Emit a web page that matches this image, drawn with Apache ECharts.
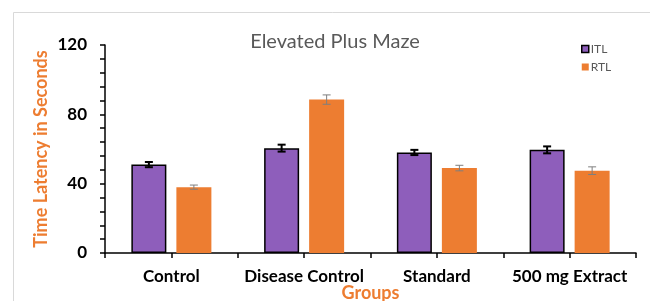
<!DOCTYPE html>
<html>
<head>
<meta charset="utf-8">
<script src="https://cdn.jsdelivr.net/npm/echarts@6/dist/echarts.min.js"></script>
<style>
    html, body { margin: 0; padding: 0; background: #fff; }
    #chart { width: 650px; height: 301px; }
</style>
</head>
<body>
<div id="chart"></div>
<script>
const groups = ["Control", "Disease Control", "Standard", "500 mg Extract"];
const itlValues = [51, 60.5, 58, 59.5];
const itlErrors = [1.5, 2, 1.5, 2];
const rtlValues = [38, 88.5, 49, 47.5];
const rtlErrors = [1.2, 2.7, 1.6, 2.2];

const BAR_WIDTH = 35;
const BAR_OFFSET = 22.5;
const FONT = "Lato, 'Open Sans', sans-serif";

function errorSeries(values, errors, side, color, width) {
    return {
        type: "custom",
        xAxisIndex: 0,
        z: 10,
        silent: true,
        data: values.map((v, i) => [i, v - errors[i], v + errors[i]]),
        renderItem(params, api) {
            const low = api.coord([api.value(0), api.value(1)]);
            const high = api.coord([api.value(0), api.value(2)]);
            const x = low[0] + side * BAR_OFFSET;
            const cap = 4;
            const style = { stroke: color, lineWidth: width };
            return {
                type: "group",
                children: [
                    { type: "line", shape: { x1: x, y1: low[1], x2: x, y2: high[1] }, style },
                    { type: "line", shape: { x1: x - cap, y1: low[1], x2: x + cap, y2: low[1] }, style },
                    { type: "line", shape: { x1: x - cap, y1: high[1], x2: x + cap, y2: high[1] }, style },
                ],
            };
        },
    };
}

const chart = echarts.init(document.getElementById("chart"));

chart.setOption({
    backgroundColor: "#ffffff",
    animation: false,
    graphic: [
        {
            type: "rect",
            shape: { x: 13.5, y: 12.5, width: 700, height: 400 },
            style: { fill: "none", stroke: "#d9d9d9", lineWidth: 1 },
            z: -1,
        },
    ],
    title: {
        text: "Elevated Plus Maze",
        left: 330,
        top: 27,
        textAlign: "center",
        textStyle: { color: "#595959", fontSize: 20, fontWeight: "normal", fontFamily: FONT },
    },
    legend: {
        orient: "vertical",
        left: 576,
        top: 38,
        itemWidth: 7,
        itemHeight: 7,
        itemGap: 6,
        textStyle: { color: "#595959", fontSize: 12, fontFamily: FONT, padding: [0, 0, 0, -3] },
        data: [
            { name: "ITL", icon: "rect", itemStyle: { borderColor: "#000", borderWidth: 1.5 } },
            { name: "RTL", icon: "rect" },
        ],
    },
    grid: { left: 105, right: 14, top: 45, bottom: 48, outerBoundsMode: "none", containLabel: false },
    xAxis: [
        {
            type: "category",
            data: groups,
            name: "Groups",
            nameLocation: "middle",
            nameGap: 31,
            nameMoveOverlap: false,
            nameTextStyle: { color: "#ED7D31", fontSize: 18, fontWeight: "bold", fontFamily: FONT },
            axisLine: { lineStyle: { color: "#000", width: 1.5 } },
            axisTick: { show: true, length: 5, lineStyle: { color: "#000", width: 1.5 } },
            axisLabel: { color: "#000", fontSize: 17, fontWeight: "bold", fontFamily: FONT, margin: 15, interval: 0 },
        },
        {
            type: "category",
            data: groups,
            position: "bottom",
            axisLine: { show: false },
            axisTick: { show: true, alignWithLabel: true, length: 5, lineStyle: { color: "#000", width: 1.5 } },
            axisLabel: { show: false },
        },
    ],
    yAxis: {
        type: "value",
        min: 0,
        max: 120,
        interval: 40,
        name: "Time Latency in Seconds",
        nameLocation: "middle",
        nameGap: 55,
        nameMoveOverlap: false,
        nameTextStyle: { color: "#ED7D31", fontSize: 18, fontWeight: "bold", fontFamily: FONT },
        axisLine: { show: true, lineStyle: { color: "#000", width: 1.5 } },
        axisTick: { show: true, length: 5, lineStyle: { color: "#000", width: 1.5 } },
        minorTick: { show: true, splitNumber: 5, length: 5, lineStyle: { color: "#000", width: 1.5 } },
        splitLine: { show: false },
        axisLabel: { color: "#000", fontSize: 17, fontWeight: "bold", fontFamily: FONT, margin: 18 },
    },
    series: [
        {
            name: "ITL",
            type: "bar",
            data: itlValues,
            barWidth: BAR_WIDTH,
            barGap: "28.6%",
            itemStyle: { color: "#8E5EBB", borderColor: "#000", borderWidth: 1.5 },
        },
        {
            name: "RTL",
            type: "bar",
            data: rtlValues,
            barWidth: BAR_WIDTH,
            itemStyle: { color: "#ED7D31" },
        },
        errorSeries(itlValues, itlErrors, -1, "#000", 2),
        errorSeries(rtlValues, rtlErrors, 1, "#7f7f7f", 1),
    ],
});
</script>
</body>
</html>
